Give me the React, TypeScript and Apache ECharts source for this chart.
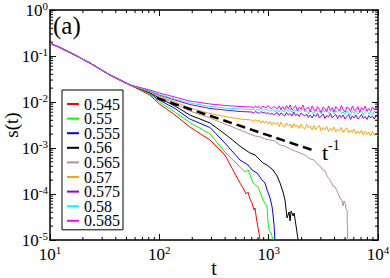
import React, { useEffect, useRef } from 'react';
import * as echarts from 'echarts';

const FONT = 'Liberation Serif, Times New Roman, serif';

const seriesNames = ['0.545', '0.55', '0.555', '0.56', '0.565', '0.57', '0.575', '0.58', '0.585'];
const seriesColors = ['#ff0000', '#00ff00', '#0000ff', '#000000', '#bc8f8f', '#ffa500', '#9400d3', '#00ffff', '#ff00ff'];

// shared early decay (all curves coincide)
const commonT = [10, 12.3, 16.9, 23.2, 28.6, 35.4, 43.6, 54.0];
const commonS = [0.19, 0.153, 0.105, 0.0705, 0.0521, 0.0386, 0.0301, 0.0234];

// divergence region
const earlyT = [66.5, 82, 100, 139, 190, 291, 398, 547];
const early545 = [0.0182, 0.0142, 0.00905, 0.00522, 0.00286, 0.00149, 0.000705, 0.000173];
const early55 = [0.0187, 0.0149, 0.01, 0.00606, 0.00358, 0.00202, 0.000819, 0.000386];
const early555 = [0.0192, 0.0157, 0.011, 0.00723, 0.00427, 0.00279, 0.00128, 0.000548];
const early56 = [0.0192, 0.0161, 0.0122, 0.00819, 0.00522, 0.00349, 0.00202, 0.0011];
const early565 = [0.0197, 0.0165, 0.0128, 0.00928, 0.00637, 0.00449, 0.00332, 0.00246];
const early57 = [0.0197, 0.0169, 0.0135, 0.01, 0.00741, 0.00562, 0.00484, 0.00427];
const early575 = [0.0202, 0.0173, 0.0142, 0.011, 0.00883, 0.00723, 0.0067, 0.00621];
const early58 = [0.0202, 0.0173, 0.0146, 0.0116, 0.0095, 0.00798, 0.00741, 0.00705];
const early585 = [0.0207, 0.0182, 0.0157, 0.0128, 0.0105, 0.00905, 0.0084, 0.00798];

// tails of the decaying curves
const tail545T = [583, 621, 648, 674, 705, 735, 750, 767, 783, 800, 817, 834];
const tail545S = [0.000135, 0.0001, 0.00011, 0.0000778, 0.0000637, 0.0000449, 0.0000496, 0.0000333, 0.0000246, 0.0000182, 0.0000142, 0.00001];
const tail55T = [608, 648, 720, 800, 889, 967, 988, 1009, 1052, 1097];
const tail55S = [0.000301, 0.000332, 0.000173, 0.000142, 0.0000741, 0.0000522, 0.0000234, 0.0000165, 0.0000142, 0.00001];
const tail555T = [648, 705, 783, 871, 926, 967, 1030, 1075, 1097, 1120, 1140];
const tail555S = [0.000427, 0.000332, 0.000286, 0.000202, 0.000173, 0.000122, 0.0000819, 0.0000522, 0.0000349, 0.0000212, 0.00001];
const tail56T = [674, 750, 834, 889, 967, 1097, 1194, 1270, 1355, 1410, 1472, 1537, 1570, 1603, 1673, 1708, 1781, 1858];
const tail56S = [0.000778, 0.000705, 0.000548, 0.000472, 0.000427, 0.000332, 0.000246, 0.000173, 0.00011, 0.0000741, 0.0000301, 0.0000406, 0.0000259, 0.0000427, 0.0000333, 0.0000386, 0.0000202, 0.00001];
const tail565T = [674, 750, 834, 926, 1030, 1140, 1270, 1410, 1570, 1740, 1940, 2150, 2390, 2603, 2773, 2951, 3080, 3280, 3421, 3646, 3881, 4050, 4224, 4498, 4697, 4793, 4894, 5000, 5105, 5214, 5270];
const tail565S = [0.00202, 0.00182, 0.00175, 0.00157, 0.00149, 0.00142, 0.00116, 0.0011, 0.000951, 0.000861, 0.000778, 0.000705, 0.000577, 0.000548, 0.000449, 0.000406, 0.000349, 0.000316, 0.000246, 0.000202, 0.000149, 0.000142, 0.000116, 0.0000819, 0.0000705, 0.0000548, 0.0000705, 0.0000637, 0.0000472, 0.0000449, 0.00001];

// noisy plateaus of the upper curves
const plateauT = [700, 728, 756, 786, 817, 849, 882, 917, 953, 990, 1029, 1069, 1111, 1155, 1200, 1247, 1296, 1347, 1400, 1455, 1512, 1572, 1633, 1697, 1764, 1833, 1905, 1980, 2058, 2139, 2223, 2310, 2401, 2495, 2593, 2695, 2801, 2911, 3025, 3144, 3268, 3396, 3529, 3668, 3812, 3962, 4118, 4279, 4448, 4622, 4804, 4993, 5189, 5393, 5604, 5825, 6054, 6291, 6538, 6795, 7062, 7340, 7628, 7928, 8239, 8563, 8899, 9249, 9612, 10000];
const plateau57 = [0.00406, 0.00368, 0.00417, 0.00377, 0.00406, 0.00349, 0.00396, 0.00341, 0.00386, 0.00332, 0.00377, 0.00316, 0.00368, 0.00324, 0.00358, 0.00293, 0.00368, 0.00308, 0.00286, 0.00349, 0.00301, 0.00332, 0.00272, 0.00341, 0.00286, 0.00316, 0.00265, 0.00332, 0.00279, 0.00259, 0.00324, 0.00272, 0.00301, 0.00246, 0.00308, 0.00252, 0.00286, 0.00308, 0.00234, 0.00279, 0.00246, 0.00293, 0.00228, 0.00272, 0.0024, 0.00286, 0.00223, 0.00259, 0.00234, 0.00279, 0.00217, 0.00252, 0.00272, 0.00212, 0.00246, 0.00217, 0.00259, 0.00202, 0.00234, 0.00207, 0.00246, 0.00192, 0.00228, 0.00197, 0.00223, 0.00182, 0.00228, 0.00187, 0.00212, 0.00182];
const plateau575 = [0.00606, 0.00577, 0.00621, 0.00591, 0.00562, 0.00621, 0.00577, 0.00606, 0.00548, 0.00591, 0.00535, 0.00577, 0.00522, 0.00562, 0.00591, 0.00509, 0.00577, 0.00535, 0.00496, 0.00591, 0.00522, 0.00562, 0.00496, 0.00606, 0.00509, 0.00548, 0.00484, 0.00577, 0.00535, 0.00496, 0.00548, 0.0046, 0.00522, 0.00449, 0.00535, 0.00484, 0.00562, 0.00449, 0.00496, 0.00548, 0.00438, 0.00509, 0.00472, 0.00562, 0.00449, 0.00496, 0.00535, 0.00438, 0.00522, 0.0046, 0.00522, 0.00427, 0.00484, 0.00535, 0.00417, 0.00496, 0.00449, 0.00522, 0.00427, 0.00472, 0.00535, 0.00438, 0.00484, 0.00417, 0.00509, 0.00449, 0.00496, 0.00427, 0.00522, 0.0046];
const plateau58 = [0.00688, 0.00705, 0.00654, 0.00688, 0.0067, 0.00723, 0.00654, 0.00705, 0.0067, 0.00688, 0.00621, 0.0067, 0.00688, 0.00621, 0.0067, 0.00606, 0.00705, 0.00637, 0.00606, 0.00688, 0.00621, 0.00723, 0.00591, 0.0067, 0.00637, 0.00705, 0.00591, 0.00654, 0.00705, 0.00606, 0.00654, 0.00562, 0.0067, 0.00606, 0.00562, 0.00688, 0.00591, 0.00637, 0.00548, 0.0067, 0.00606, 0.00688, 0.00562, 0.00621, 0.0067, 0.00548, 0.00637, 0.00591, 0.00688, 0.00577, 0.00606, 0.00535, 0.00654, 0.00577, 0.00522, 0.00637, 0.00562, 0.00654, 0.00548, 0.00591, 0.00637, 0.00522, 0.00606, 0.00654, 0.00548, 0.00591, 0.00522, 0.00637, 0.00562, 0.00606];
const plateau585 = [0.00779, 0.00741, 0.00819, 0.0076, 0.00798, 0.00723, 0.00819, 0.00779, 0.00741, 0.0084, 0.00741, 0.00723, 0.00798, 0.0076, 0.00705, 0.00819, 0.00688, 0.00798, 0.0067, 0.0084, 0.00705, 0.00861, 0.0067, 0.00741, 0.0084, 0.00637, 0.00779, 0.00688, 0.00861, 0.00654, 0.00723, 0.00779, 0.00606, 0.00819, 0.0067, 0.00637, 0.00798, 0.00688, 0.00591, 0.00779, 0.00723, 0.00621, 0.00819, 0.00654, 0.0076, 0.00606, 0.00798, 0.00705, 0.00637, 0.0084, 0.0067, 0.00606, 0.00779, 0.00741, 0.00621, 0.00819, 0.00654, 0.00688, 0.00798, 0.00591, 0.0076, 0.0067, 0.00819, 0.00637, 0.00723, 0.00621, 0.00779, 0.0067, 0.00819, 0.00654];

// guide line t^-1
const guideT = [95, 2500];
const guideS = [0.0122, 0.000905];

// axis ranges and minor tick multipliers
const xDecades = [10, 100, 1000];
const yDecades = [0.00001, 0.0001, 0.001, 0.01, 0.1];
const minorMult = [2, 3, 4, 5, 6, 7, 8, 9];

const zip = (t: number[], s: number[]) => t.map((v, i) => [v, s[i]]);

const seriesData = [
  [...zip(commonT, commonS), ...zip(earlyT, early545), ...zip(tail545T, tail545S)],
  [...zip(commonT, commonS), ...zip(earlyT, early55), ...zip(tail55T, tail55S)],
  [...zip(commonT, commonS), ...zip(earlyT, early555), ...zip(tail555T, tail555S)],
  [...zip(commonT, commonS), ...zip(earlyT, early56), ...zip(tail56T, tail56S)],
  [...zip(commonT, commonS), ...zip(earlyT, early565), ...zip(tail565T, tail565S)],
  [...zip(commonT, commonS), ...zip(earlyT, early57), ...zip(plateauT, plateau57)],
  [...zip(commonT, commonS), ...zip(earlyT, early575), ...zip(plateauT, plateau575)],
  [...zip(commonT, commonS), ...zip(earlyT, early58), ...zip(plateauT, plateau58)],
  [...zip(commonT, commonS), ...zip(earlyT, early585), ...zip(plateauT, plateau585)],
];

const xMinor: number[] = [];
xDecades.forEach((d) => minorMult.forEach((m) => xMinor.push(d * m)));
const yMinor: number[] = [];
yDecades.forEach((d) => minorMult.forEach((m) => yMinor.push(d * m)));

const supFormatter = (v: number) => `{b|10}{s|${Math.round(Math.log10(v))}}`;
const tickRich = {
  b: { fontFamily: FONT, fontSize: 17, color: '#000', lineHeight: 20, verticalAlign: 'middle' },
  s: { fontFamily: FONT, fontSize: 11, color: '#000', lineHeight: 8, verticalAlign: 'top' },
};

const axisLineStyle = { color: '#000', width: 1.5 };

const xBase = {
  type: 'log',
  logBase: 10,
  min: 10,
  max: 10000,
  splitLine: { show: false },
  axisLine: { show: true, lineStyle: axisLineStyle },
  axisTick: { show: true, inside: true, length: 6, lineStyle: { color: '#000', width: 1 } },
};
const yBase = {
  type: 'log',
  logBase: 10,
  min: 0.00001,
  max: 1,
  splitLine: { show: false },
  axisLine: { show: true, lineStyle: axisLineStyle },
  axisTick: { show: true, inside: true, length: 6, lineStyle: { color: '#000', width: 1 } },
};

const option: any = {
  animation: false,
  backgroundColor: '#fff',
  textStyle: { fontFamily: FONT },
  grid: { left: 50, right: 12, top: 10, bottom: 38, containLabel: false, outerBoundsMode: 'none' },
  xAxis: [
    {
      ...xBase,
      position: 'bottom',
      axisLabel: { formatter: supFormatter, rich: tickRich, margin: 4 },
      name: 't',
      nameLocation: 'middle',
      nameGap: 20,
      nameMoveOverlap: false,
      nameTextStyle: { fontFamily: FONT, fontSize: 20, color: '#000', lineHeight: 16 },
    },
    { ...xBase, position: 'top', axisLabel: { show: false } },
  ],
  yAxis: [
    {
      ...yBase,
      position: 'left',
      axisLabel: { formatter: supFormatter, rich: tickRich, margin: 2 },
      name: 's(t)',
      nameLocation: 'middle',
      nameGap: 29,
      nameMoveOverlap: false,
      nameTextStyle: { fontFamily: FONT, fontSize: 19, color: '#000' },
    },
    { ...yBase, position: 'right', axisLabel: { show: false } },
  ],
  legend: {
    data: seriesNames,
    orient: 'vertical',
    left: 62,
    top: 90,
    icon: 'rect',
    itemWidth: 12,
    itemHeight: 2,
    itemGap: -1.4,
    padding: [6, 3, 1, 5],
    backgroundColor: '#fff',
    borderColor: '#000',
    borderWidth: 1,
    selectedMode: false,
    textStyle: { fontFamily: FONT, fontSize: 16, color: '#000' },
  },
  graphic: [
    {
      type: 'text',
      left: 53,
      top: 13,
      style: { text: '(a)', font: 'normal 25px "Liberation Serif", serif', fontFamily: FONT, fontSize: 25, fill: '#000' },
    },
    {
      type: 'text',
      x: 322,
      y: 138,
      style: {
        text: '{b|t}{s|-1}',
        rich: {
          b: { fontFamily: FONT, fontSize: 22, fill: '#000', lineHeight: 28, verticalAlign: 'middle' },
          s: { fontFamily: FONT, fontSize: 14, fill: '#000', lineHeight: 12, verticalAlign: 'top' },
        },
      },
    },
  ],
  series: [
    ...seriesNames.map((name, i) => ({
      name,
      type: 'line',
      data: seriesData[i],
      showSymbol: false,
      symbol: 'none',
      color: seriesColors[i],
      lineStyle: { color: seriesColors[i], width: 1 },
      clip: true,
    })),
    {
      name: 't^-1',
      type: 'line',
      data: zip(guideT, guideS),
      showSymbol: false,
      symbol: 'none',
      color: '#000',
      lineStyle: { color: '#000', width: 2.5, type: [9, 5] },
      z: 3,
    },
    {
      type: 'custom',
      silent: true,
      clip: false,
      z: 4,
      data: xMinor.map((v) => [v, 1]),
      renderItem: (_p: any, api: any) => {
        const v = api.value(0);
        const b = api.coord([v, 0.00001]);
        const t = api.coord([v, 1]);
        return {
          type: 'group',
          children: [
            { type: 'line', shape: { x1: b[0], y1: b[1], x2: b[0], y2: b[1] - 3 }, style: { stroke: '#000', lineWidth: 1 } },
            { type: 'line', shape: { x1: t[0], y1: t[1], x2: t[0], y2: t[1] + 3 }, style: { stroke: '#000', lineWidth: 1 } },
          ],
        };
      },
    },
    {
      type: 'custom',
      silent: true,
      clip: false,
      z: 4,
      data: yMinor.map((v) => [10, v]),
      renderItem: (_p: any, api: any) => {
        const v = api.value(1);
        const l = api.coord([10, v]);
        const r = api.coord([10000, v]);
        return {
          type: 'group',
          children: [
            { type: 'line', shape: { x1: l[0], y1: l[1], x2: l[0] + 3, y2: l[1] }, style: { stroke: '#000', lineWidth: 1 } },
            { type: 'line', shape: { x1: r[0], y1: r[1], x2: r[0] - 3, y2: r[1] }, style: { stroke: '#000', lineWidth: 1 } },
          ],
        };
      },
    },
  ],
};

export default function App() {
  const ref = useRef<HTMLDivElement>(null);
  useEffect(() => {
    document.body.style.margin = '0';
    const chart = echarts.init(ref.current as HTMLDivElement, null, { renderer: 'svg' });
    chart.setOption(option);
    return () => chart.dispose();
  }, []);
  return <div ref={ref} style={{ width: 390, height: 278 }} />;
}
